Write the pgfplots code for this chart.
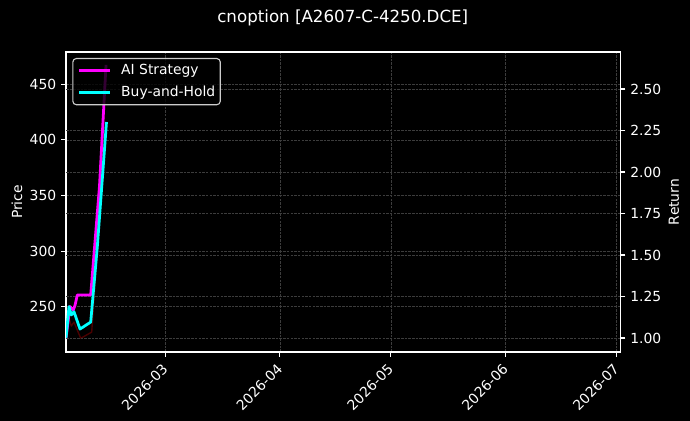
\documentclass[border=0pt]{standalone}
\usepackage{pgfplots}
\pgfplotsset{compat=1.18}
\usepackage{fontspec}
\setmainfont{DejaVu Sans}
\definecolor{mag}{HTML}{FF00FF}
\definecolor{cyn}{HTML}{00FFFF}
\definecolor{gridc}{HTML}{3C3C3C}
\definecolor{legedge}{HTML}{CCCCCC}
\definecolor{pricec}{HTML}{4A0000}

\pgfplotstableread{
d p
32.16 226.3
32.97 239.8
33.59 232.6
34.32 236.2
36.14 221.6
39.11 227.2
40.62 301.0
43.11 466.8
}\pricetab

\pgfplotstableread{
d r
32.16 1.000
33.24 1.190
34.13 1.169
34.59 1.196
35.22 1.259
38.84 1.259
41.22 1.916
42.98 2.645
}\aitab

\pgfplotstableread{
d r
32.16 1.000
32.97 1.189
33.59 1.139
34.32 1.158
35.95 1.054
38.84 1.096
40.62 1.548
43.11 2.301
}\bhtab

\pgfplotsset{
  common/.style={
    at={(47.52bp,49.68bp)}, anchor=south west,
    scale only axis, width=399.24bp, height=216bp,
    xmin=32.16, xmax=182.08,
    tick align=outside,
    major tick length=3.5bp,
    every tick/.style={white, line width=0.8bp},
    axis line style={white, line width=1bp},
    ticklabel style={white, font=\fontsize{10bp}{12bp}\selectfont},
    /pgf/number format/assume math mode=true,
    major grid style={gridc, line width=0.5bp, dash pattern=on 1.85bp off 0.8bp},
  }
}

\begin{document}
\begin{tikzpicture}
\fill[black] (0,0) rectangle (496.8bp,303.12bp);
\useasboundingbox (0,0) rectangle (496.8bp,303.12bp);

\begin{axis}[common,
  ymin=209.3, ymax=479.0,
  xtick={59,90,120,151,181},
  xticklabels={2026-03,2026-04,2026-05,2026-06,2026-07},
  xtick pos=left, ytick pos=left,
  ytick={250,300,350,400,450},
  xmajorgrids=true, ymajorgrids=true,
  xticklabel style={rotate=45, anchor=north east, inner sep=0pt, xshift=-5bp, yshift=-1bp},
  ylabel={Price},
  every axis y label/.style={at={(axis description cs:-0.0884,0.5)}, rotate=90, anchor=center, text=white, font=\fontsize{10bp}{12bp}\selectfont},
]
\addplot[pricec, line width=1bp, line join=round] table[x=d,y=p] {\pricetab};
\end{axis}

\begin{axis}[common,
  ymin=0.9157, ymax=2.7229,
  axis x line=none, axis y line*=right,
  xtick=\empty,
  ytick={1,1.25,1.5,1.75,2,2.25,2.5},
  yticklabel style={/pgf/number format/.cd, fixed, fixed zerofill, precision=2},
  xmajorgrids=false, ymajorgrids=true,
  ylabel={Return},
  every axis y label/.style={at={(axis description cs:1.0965,0.5)}, rotate=90, anchor=center, text=white, font=\fontsize{10bp}{12bp}\selectfont},
  legend cell align=left,
  legend image code/.code={\draw[#1] (0bp,0bp) -- (22bp,0bp);},
  legend style={at={(axis description cs:0.01136,0.98)}, anchor=north west,
    fill=black, fill opacity=0.8, text opacity=1, draw=legedge, draw opacity=1,
    line width=0.8bp, rounded corners=2.5bp,
    inner xsep=3.6bp, inner ysep=4bp, row sep=5.85bp, column sep=7.2bp,
    nodes={inner sep=0pt, text height=7.5bp, text depth=2.2bp},
    font=\fontsize{10bp}{12bp}\selectfont, text=white},
]
\addplot[mag, line width=2bp, line join=round] table[x=d,y=r] {\aitab};
\addlegendentry{AI Strategy}
\addplot[cyn, line width=2bp, line join=round] table[x=d,y=r] {\bhtab};
\addlegendentry{Buy-and-Hold}
\end{axis}

\node[white, font=\fontsize{12bp}{14bp}\selectfont] at (246.8bp,290.2bp) {cnoption [A2607-C-4250.DCE]};
\end{tikzpicture}
\end{document}
